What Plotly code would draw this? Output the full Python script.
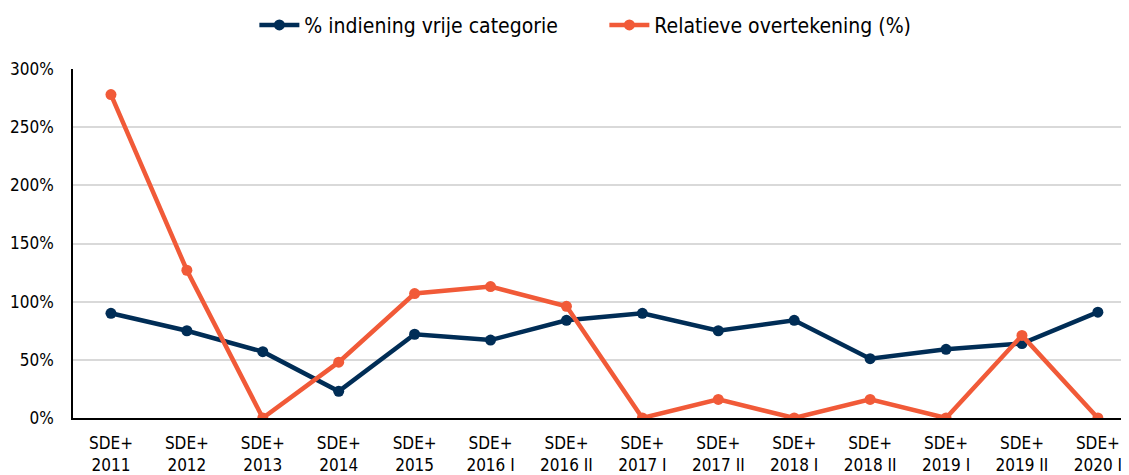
import plotly.graph_objects as go

categories = ["SDE+<br>2011", "SDE+<br>2012", "SDE+<br>2013", "SDE+<br>2014", "SDE+<br>2015",
              "SDE+<br>2016 I", "SDE+<br>2016 II", "SDE+<br>2017 I", "SDE+<br>2017 II",
              "SDE+<br>2018 I", "SDE+<br>2018 II", "SDE+<br>2019 I", "SDE+<br>2019 II",
              "SDE+<br>2020 I"]
indiening = [0.90, 0.75, 0.57, 0.23, 0.72, 0.67, 0.84, 0.90, 0.75, 0.84, 0.51, 0.59, 0.64, 0.91]
overtekening = [2.78, 1.27, 0.0, 0.48, 1.07, 1.13, 0.96, 0.0, 0.16, 0.0, 0.16, 0.0, 0.71, 0.0]

navy = "#002d56"
orange = "#f15a38"
font_fam = "DejaVu Sans Condensed, DejaVu Sans, sans-serif"

fig = go.Figure()
fig.add_trace(go.Scatter(x=categories, y=indiening, mode="lines+markers",
                         name="% indiening vrije categorie",
                         line=dict(color=navy, width=4.5), marker=dict(size=11, color=navy)))
fig.add_trace(go.Scatter(x=categories, y=overtekening, mode="lines+markers",
                         name="Relatieve overtekening (%)",
                         line=dict(color=orange, width=4.5), marker=dict(size=11, color=orange)))

# page body has an 8px margin, so the figure is shifted; compensate here
fig.update_layout(
    width=1121, height=467,
    margin=dict(l=65, r=0, t=61, b=57),
    plot_bgcolor="white", paper_bgcolor="white",
    font=dict(family=font_fam, size=17, color="#000000"),
    showlegend=True,
    legend=dict(orientation="h", x=0.532, xanchor="center", y=0.963, yanchor="middle",
                yref="container", xref="container", font=dict(size=21), itemwidth=40,
                entrywidth=295, traceorder="normal"),
)
fig.update_xaxes(type="category", range=[-0.5, 13.41], showgrid=False,
                 showline=True, linecolor="black", linewidth=1.5,
                 ticks="", ticklabelstandoff=9, automargin=False,
                 tickfont=dict(size=17))
fig.update_yaxes(range=[0, 3], dtick=0.5, tickformat=".0%", showgrid=True,
                 gridcolor="#d9d9d9", gridwidth=1.5, showline=True, linecolor="black",
                 linewidth=1.5, ticks="", ticklabelstandoff=14, automargin=False,
                 zeroline=False, tickfont=dict(size=17))

fig.write_html("out.html")
